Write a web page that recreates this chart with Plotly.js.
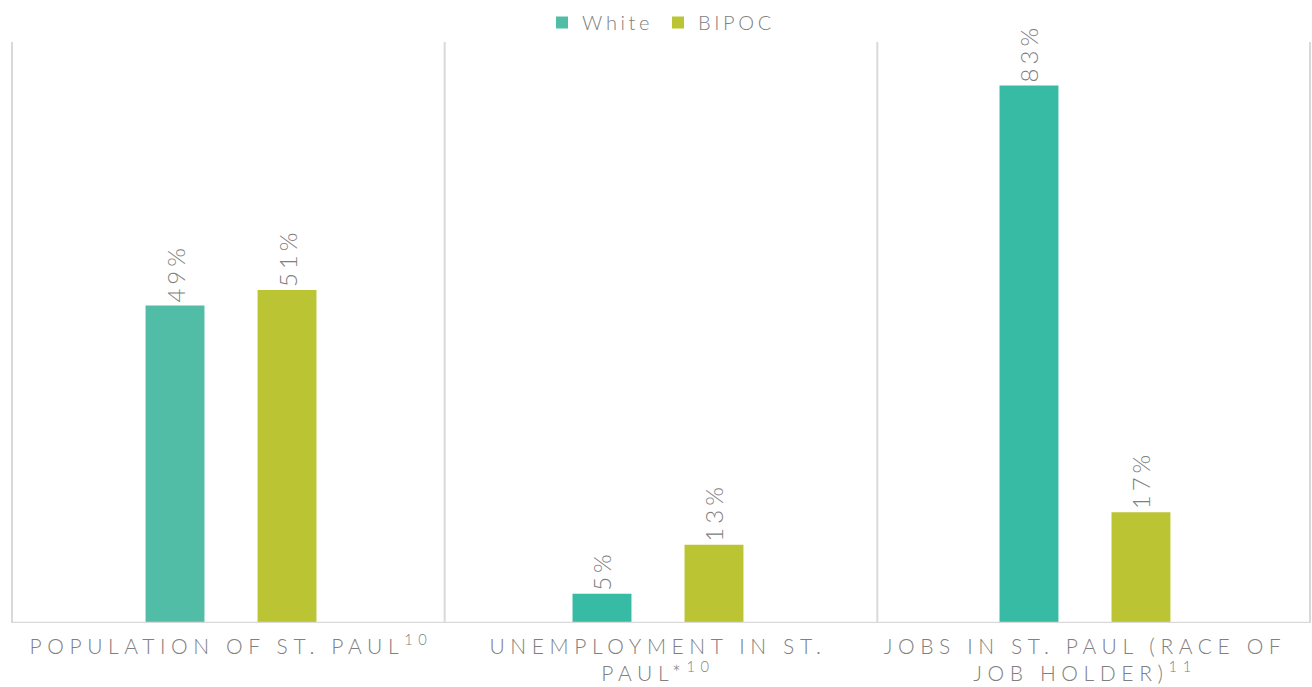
<!DOCTYPE html>
<html>
<head>
<meta charset="utf-8">
<script src="https://cdn.plot.ly/plotly-3.0.1.min.js"></script>
<style>
html,body{margin:0;padding:0;background:#fff;}
#chart{width:1312px;height:687px;}
.xtick text{letter-spacing:5.6px;}
.legendtext{letter-spacing:3.6px;}
.bartext{letter-spacing:4px;}
</style>
</head>
<body>
<div id="chart"></div>
<script>
const categories = [
  "POPULATION OF ST. PAUL<sup>10</sup>",
  "UNEMPLOYMENT IN ST.<br>PAUL*<sup>10</sup>",
  "JOBS IN ST. PAUL (RACE OF<br>JOB HOLDER)<sup>11</sup>"
];
const whiteValues = [49, 4.5, 83];
const bipocValues = [51.4, 12.1, 17.1];
const whiteLabels = ["49%", "5%", "83%"];
const bipocLabels = ["51%", "13%", "17%"];

const whiteColors = ["#52BDA6", "#38BBA5", "#38BBA5"];
const bipocColor = "#BBC533";
const fontFam = "Lato, 'Open Sans', sans-serif";
const textGray = "#808080";

const x = [0, 1, 2];

const traces = [
  {
    type: "bar", name: "White", x: x, y: whiteValues,
    text: whiteLabels, textposition: "outside", textangle: -90,
    constraintext: "none", cliponaxis: false,
    textfont: {family: fontFam, size: 24, color: textGray, weight: 300},
    marker: {color: whiteColors},
    hoverinfo: "skip"
  },
  {
    type: "bar", name: "BIPOC", x: x, y: bipocValues,
    text: bipocLabels, textposition: "outside", textangle: -90,
    constraintext: "none", cliponaxis: false,
    textfont: {family: fontFam, size: 24, color: textGray, weight: 300},
    marker: {color: bipocColor},
    hoverinfo: "skip"
  }
];

const shapes = [0, 1/3, 2/3, 1].map(v => ({
  type: "line", xref: "paper", yref: "paper", x0: v, x1: v, y0: 0, y1: 1,
  line: {color: "#d9d9d9", width: 2}
}));
shapes.push({
  type: "line", xref: "paper", yref: "y", x0: 0, x1: 1, y0: 0, y1: 0,
  line: {color: "#d9d9d9", width: 2.5}
});

const layout = {
  width: 1312, height: 687,
  margin: {l: 12, r: 2, t: 42, b: 64},
  paper_bgcolor: "#fff", plot_bgcolor: "#fff",
  barmode: "group", bargap: 0.4754, bargroupgap: 0.474,
  showlegend: true,
  legend: {
    orientation: "h", x: 0.5, xanchor: "center", y: 1.0, yanchor: "bottom",
    font: {family: fontFam, size: 20, color: textGray, weight: 300},
    itemwidth: 30, traceorder: "normal"
  },
  xaxis: {
    tickmode: "array", tickvals: x, ticktext: categories,
    range: [-0.5129, 2.527], showgrid: false, zeroline: false, showline: false,
    ticks: "", tickangle: 0, ticklabelstandoff: 9,
    tickfont: {family: fontFam, size: 21, color: textGray, weight: 300}
  },
  yaxis: {
    range: [0, 89.7], showgrid: false, zeroline: false, showline: false,
    showticklabels: false, ticks: ""
  },
  shapes: shapes
};

Plotly.newPlot("chart", traces, layout, {displayModeBar: false, staticPlot: true});
</script>
</body>
</html>
